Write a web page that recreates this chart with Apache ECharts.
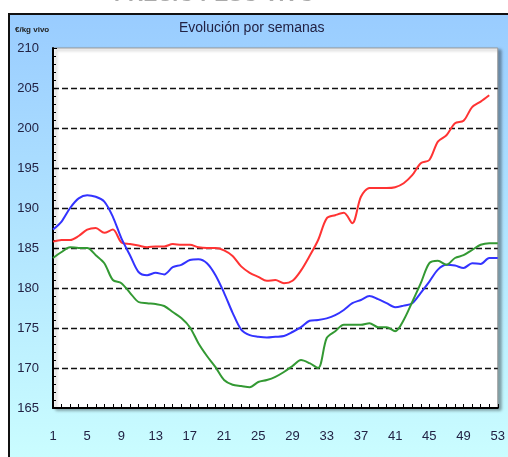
<!DOCTYPE html>
<html>
<head>
<meta charset="utf-8">
<style>
html, body { margin: 0; padding: 0; background: #fff; }
#chart { width: 508px; height: 457px; }
</style>
<script src="https://cdn.jsdelivr.net/npm/echarts@6/dist/echarts.min.js"></script>
</head>
<body>
<div id="chart"></div>
<script>
// semanas 1..53
var weeks = [];
for (var i = 1; i <= 53; i++) weeks.push(String(i));

var yTicks = [165, 170, 175, 180, 185, 190, 195, 200, 205, 210];

// precios €/kg vivo
var serieRoja = [185.8, 186, 186, 186.5, 187.3, 187.5, 186.9, 187.3, 185.7, 185.5,
  185.3, 185.1, 185.2, 185.2, 185.5, 185.4, 185.4, 185.1, 185, 185,
  184.7, 184, 182.7, 181.9, 181.4, 180.9, 181, 180.6, 180.9, 182.2,
  184, 186, 188.7, 189.1, 189.4, 188.1, 191.4, 192.5, 192.5, 192.5,
  192.6, 193.1, 194.1, 195.6, 196, 198.3, 199.1, 200.6, 200.9, 202.6,
  203.3, 204.1];
var serieAzul = [187.3, 188.3, 190, 191.2, 191.6, 191.4, 190.8, 188.9, 186.2, 184.1,
  182, 181.6, 181.9, 181.7, 182.6, 182.9, 183.5, 183.6, 183.1, 181.6,
  179.4, 176.9, 174.8, 174.1, 173.9, 173.8, 173.9, 174, 174.5, 175.1,
  175.9, 176, 176.2, 176.6, 177.25, 178.1, 178.5, 179, 178.6, 178.1,
  177.6, 177.8, 178.1, 179.4, 180.8, 182.3, 182.9, 182.8, 182.5, 183.1,
  183, 183.75, 183.75];
var serieVerde = [183.75, 184.5, 185.1, 185, 185, 184.1, 183.1, 181, 180.6, 179.4,
  178.25, 178.1, 178, 177.75, 177, 176.25, 175.1, 173.1, 171.5, 170.1,
  168.5, 167.9, 167.75, 167.6, 168.25, 168.5, 168.9, 169.5, 170.25, 171,
  170.6, 170, 173.75, 174.6, 175.4, 175.4, 175.4, 175.6, 175.1, 175.1,
  174.6, 176, 178.25, 180.6, 183.1, 183.4, 182.9, 183.75, 184.1, 184.75,
  185.4, 185.6, 185.6];

var myChart = echarts.init(document.getElementById('chart'));

var splitColors = yTicks.map(function (v) {
  return (v === 165 || v === 210) ? 'rgba(0,0,0,0)' : '#111';
});

var option = {
  animation: false,
  backgroundColor: '#fff',
  textStyle: { fontFamily: 'Liberation Sans, Arial, sans-serif' },
  graphic: [
    {
      type: 'rect',
      left: 8, top: 13,
      shape: { width: 520, height: 460 },
      style: {
        fill: new echarts.graphic.LinearGradient(0, 0, 0, 1, [
          { offset: 0, color: '#99ccff' },
          { offset: 1, color: '#ccffff' }
        ]),
        stroke: '#111',
        lineWidth: 2
      },
      z: -10
    },
    {
      type: 'text',
      left: 114, top: -15,
      style: { text: 'PRECIO PESO VIVO', fill: '#aaa', font: 'bold 21px Liberation Sans, Arial, sans-serif' },
      z: -5
    },
    {
      type: 'text',
      left: 15, top: 26,
      style: { text: '€/kg vivo', fill: '#222', font: 'bold 8px Liberation Sans, Arial, sans-serif' }
    },
    {
      type: 'text',
      left: 179, top: 21,
      style: { text: 'Evolución por semanas', fill: '#222244', font: '14px Liberation Sans, Arial, sans-serif' }
    }
  ],
  grid: {
    left: 53, right: 10, top: 48, bottom: 49,
    show: true,
    backgroundColor: '#fff',
    borderColor: '#999',
    borderWidth: 1,
    shadowColor: 'rgba(0,0,0,0.35)',
    shadowBlur: 3,
    shadowOffsetX: 3,
    shadowOffsetY: 2
  },
  xAxis: {
    type: 'category',
    data: weeks,
    boundaryGap: false,
    axisLine: { lineStyle: { color: '#000', width: 2 } },
    axisTick: { inside: true, length: 4, interval: 0, lineStyle: { color: '#000' } },
    axisLabel: { interval: 3, color: '#222244', fontSize: 13, margin: 22 },
    splitLine: { show: false }
  },
  yAxis: {
    type: 'value',
    min: 165, max: 210, interval: 5,
    axisLine: { show: true, lineStyle: { color: '#000', width: 2 } },
    axisTick: { show: true, inside: true, length: 4, lineStyle: { color: '#000' } },
    minorTick: { show: true, splitNumber: 5, length: 3, lineStyle: { color: '#000' } },
    axisLabel: { color: '#222244', fontSize: 13, margin: 14 },
    splitLine: { show: true, lineStyle: { color: splitColors, type: [6, 3], width: 1.3 } }
  },
  series: [
    { type: 'line', data: serieRoja, showSymbol: false, smooth: 0.3,
      lineStyle: { color: '#ff3333', width: 2 } },
    { type: 'line', data: serieAzul, showSymbol: false, smooth: 0.3,
      lineStyle: { color: '#3333ff', width: 2 } },
    { type: 'line', data: serieVerde, showSymbol: false, smooth: 0.3,
      lineStyle: { color: '#339933', width: 2 } }
  ]
};

myChart.setOption(option);
</script>
</body>
</html>
